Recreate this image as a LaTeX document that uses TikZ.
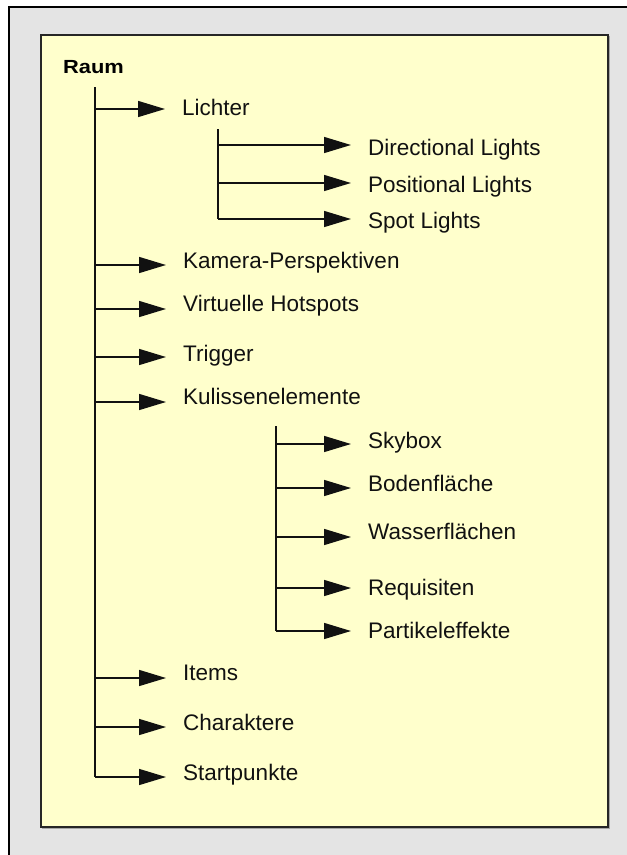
\documentclass[tikz,border=0pt]{standalone}
\usepackage{fontspec}
\setmainfont{Liberation Sans}
\usetikzlibrary{arrows.meta}

\definecolor{panelgray}{HTML}{E4E4E4}
\definecolor{notepad}{HTML}{FFFFCC}
\definecolor{inkline}{HTML}{111111}

\tikzset{
  lbl/.style={anchor=base west, inner sep=0pt, text=inkline,
    font=\fontsize{22.5}{27}\selectfont},
  rootlbl/.style={anchor=base west, inner sep=0pt, text=black,
    font=\fontsize{19}{23}\selectfont\bfseries},
  trunk/.style={draw=inkline, line width=1.4pt},
  branch/.style={draw=inkline, line width=1.4pt,
    -{Triangle[length=27pt, width=16pt]}},
}

\begin{document}
\begin{tikzpicture}[x=1pt, y=-1pt]
  \useasboundingbox (0,0) rectangle (627,855);

  % outer panel (border only on top and left)
  \fill[panelgray] (9,7) rectangle (627,855);
  \draw[black, line width=1.8pt] (9,855) -- (9,7) -- (627,7);

  % inner note area with a faint shadow
  \draw[gray!70, line width=1pt] (42,828) -- (609.5,828) -- (609.5,36);
  \filldraw[fill=notepad, draw=black!85, line width=1.8pt] (41,35) rectangle (608,827);

  % root
  \node[rootlbl] (raum) at (63,73) {\scalebox{1.15}[1]{Raum}};

  % first-level labels
  \node[lbl] (lichter)  at (182,115) {Lichter};
  \node[lbl] (kamera)   at (183,268) {Kamera-Perspektiven};
  \node[lbl] (hotspots) at (183,311) {Virtuelle Hotspots};
  \node[lbl] (trigger)  at (183,361) {Trigger};
  \node[lbl] (kulissen) at (183,404) {Kulissenelemente};
  \node[lbl] (items)    at (183,680) {Items};
  \node[lbl] (chars)    at (183,730) {Charaktere};
  \node[lbl] (start)    at (183,780) {Startpunkte};

  % lights
  \node[lbl] (dirl) at (368,155) {Directional Lights};
  \node[lbl] (posl) at (368,192) {Positional Lights};
  \node[lbl] (spot) at (368,228) {Spot Lights};

  % scenery elements
  \node[lbl] (sky)    at (368,448) {Skybox};
  \node[lbl] (boden)  at (368,491) {Bodenfläche};
  \node[lbl] (wasser) at (368,539) {Wasserflächen};
  \node[lbl] (requi)  at (368,595) {Requisiten};
  \node[lbl] (partik) at (368,638) {Partikeleffekte};

  % junctions on the main trunk
  \coordinate (mtop) at (95,87);
  \coordinate (m1) at (95,109);
  \coordinate (m2) at (95,265);
  \coordinate (m3) at (95,309);
  \coordinate (m4) at (95,357);
  \coordinate (m5) at (95,402);
  \coordinate (m6) at (95,678);
  \coordinate (m7) at (95,727);
  \coordinate (m8) at (95,777);

  % junctions on the lights trunk
  \coordinate (ltop) at (218,129);
  \coordinate (l1) at (218,145);
  \coordinate (l2) at (218,183);
  \coordinate (l3) at (218,219);

  % junctions on the scenery trunk
  \coordinate (ktop) at (276,426);
  \coordinate (k1) at (276,444);
  \coordinate (k2) at (276,488);
  \coordinate (k3) at (276,537);
  \coordinate (k4) at (276,588);
  \coordinate (k5) at (276,631);

  % trunks
  \draw[trunk] (mtop) -- (m8);
  \draw[trunk] (ltop) -- (l3);
  \draw[trunk] (ktop) -- (k5);

  % branches: each ends a little before its label
  \foreach \j/\n in {m1/lichter, m2/kamera, m3/hotspots, m4/trigger,
                     m5/kulissen, m6/items, m7/chars, m8/start,
                     l1/dirl, l2/posl, l3/spot,
                     k1/sky, k2/boden, k3/wasser, k4/requi, k5/partik}
    \draw[branch] (\j) -- ([xshift=-17pt]\j -| \n.west);
\end{tikzpicture}
\end{document}
